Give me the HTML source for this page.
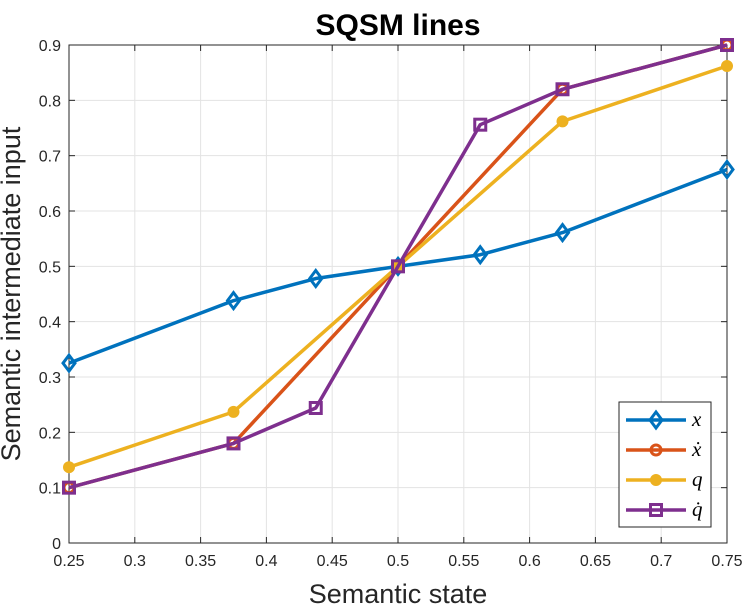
<!DOCTYPE html>
<html><head><meta charset="utf-8"><style>
body{margin:0;background:#fff;}
svg{display:block;font-family:"Liberation Sans",sans-serif;}
</style></head><body>
<svg id="chart" width="747" height="613"></svg>
<script>
const xs4=[0.25,0.375,0.5,0.625,0.75];
const xs7=[0.25,0.375,0.4375,0.5,0.5625,0.625,0.75];
const xVals=[0.325,0.438,0.478,0.5,0.521,0.561,0.675];
const xdotVals=[0.1,0.18,0.5,0.82,0.9];
const qVals=[0.137,0.237,0.5,0.762,0.862];
const qdotVals=[0.1,0.18,0.244,0.5,0.756,0.82,0.9];
const xTicks=[0.25,0.3,0.35,0.4,0.45,0.5,0.55,0.6,0.65,0.7,0.75];
const yTicks=[0,0.1,0.2,0.3,0.4,0.5,0.6,0.7,0.8,0.9];
const L=69,R=727,T=45,B=543;
const sx=v=>L+(v-0.25)/0.5*(R-L);
const sy=v=>B-v/0.9*(B-T);
const svg=document.getElementById('chart');
const NS='http://www.w3.org/2000/svg';
function mk(tag,attrs,parent){const e=document.createElementNS(NS,tag);for(const k in attrs)e.setAttribute(k,attrs[k]);(parent||svg).appendChild(e);return e;}
xTicks.forEach(t=>{const g=mk('line',{x1:sx(t),x2:sx(t),y1:T,y2:B,stroke:'#e3e3e3','stroke-width':1});

const tx=mk('text',{x:sx(t),y:B+23,'text-anchor':'middle','font-size':16,fill:'#262626'});tx.textContent=String(t);

mk('line',{x1:sx(t),x2:sx(t),y1:B,y2:B-6,stroke:'#262626'});mk('line',{x1:sx(t),x2:sx(t),y1:T,y2:T+6,stroke:'#262626'});});
yTicks.forEach(t=>{const g=mk('line',{x1:L,x2:R,y1:sy(t),y2:sy(t),stroke:'#e3e3e3','stroke-width':1});

const tx=mk('text',{x:L-8,y:sy(t)+6,'text-anchor':'end','font-size':16,fill:'#262626'});tx.textContent=String(t);

mk('line',{x1:L,x2:L+6,y1:sy(t),y2:sy(t),stroke:'#262626'});mk('line',{x1:R,x2:R-6,y1:sy(t),y2:sy(t),stroke:'#262626'});});
const box=mk('rect',{x:L,y:T,width:R-L,height:B-T,fill:'none',stroke:'#262626','stroke-width':1});

function marker(type,cx,cy,col,g){
 if(type==='d')mk('polygon',{points:`${cx},${cy-8} ${cx+6},${cy} ${cx},${cy+8} ${cx-6},${cy}`,fill:'none',stroke:col,'stroke-width':3},g);
 else if(type==='o')mk('circle',{cx,cy,r:5,fill:'none',stroke:col,'stroke-width':3},g);
 else if(type==='f')mk('circle',{cx,cy,r:5.5,fill:col,stroke:col},g);
 else mk('rect',{x:cx-5.5,y:cy-5.5,width:11,height:11,fill:'none',stroke:col,'stroke-width':3},g);
}
const series=[
 {name:'series-x',xs:xs7,ys:xVals,col:'#0072BD',m:'d'},
 {name:'series-x-dot',xs:xs4,ys:xdotVals,col:'#D95319',m:'o'},
 {name:'series-q',xs:xs4,ys:qVals,col:'#EDB120',m:'f'},
 {name:'series-q-dot',xs:xs7,ys:qdotVals,col:'#7E2F8E',m:'s'}];
series.forEach(s=>{const g=mk('g',{});
 
 mk('polyline',{points:s.xs.map((x,i)=>sx(x)+','+sy(s.ys[i])).join(' '),fill:'none',stroke:s.col,'stroke-width':3.5,'stroke-linejoin':'round'},g);
 s.xs.forEach((x,i)=>marker(s.m,sx(x),sy(s.ys[i]),s.col,g));});
const lg=mk('g',{});

mk('rect',{x:619,y:402,width:92,height:125,fill:'#fff',stroke:'#262626'},lg);
const labels=['x','ẋ','q','q̇'];
series.forEach((s,i)=>{const y=420+i*30;const e=mk('g',{},lg);
 
 mk('line',{x1:626,x2:686,y1:y,y2:y,stroke:s.col,'stroke-width':3.5},e);marker(s.m,656,y,s.col,e);
 const t=mk('text',{x:692,y:y+6,'font-size':21,'font-style':'italic','font-family':'Liberation Serif, serif',fill:'#000'},e);t.textContent=labels[i];});
const title=mk('text',{x:398,y:35,'text-anchor':'middle','font-size':30,'font-weight':'bold',fill:'#000'});title.textContent='SQSM lines';

const xt=mk('text',{x:398,y:603,'text-anchor':'middle','font-size':27,fill:'#262626'});xt.textContent='Semantic state';

const yt=mk('text',{x:0,y:0,'text-anchor':'middle','font-size':27,fill:'#262626',transform:'translate(20,294) rotate(-90)'});yt.textContent='Semantic intermediate input';

</script>
</body></html>
